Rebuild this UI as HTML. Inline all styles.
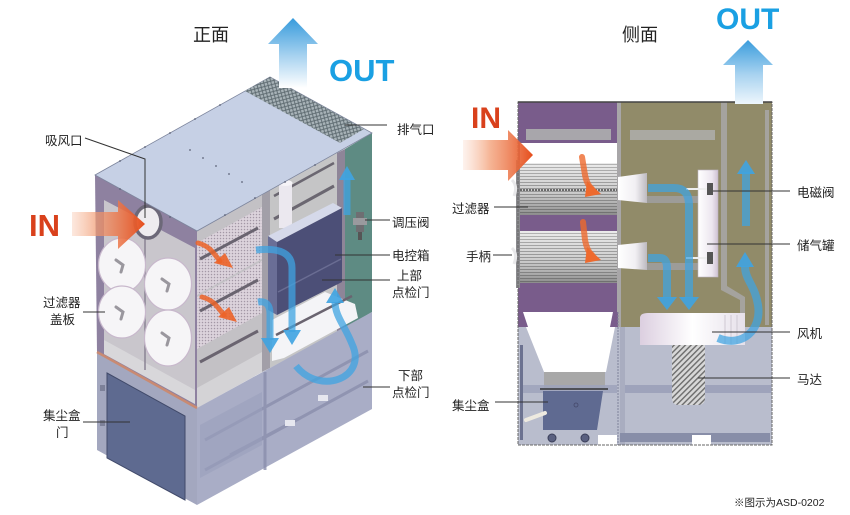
<!DOCTYPE html>
<html><head><meta charset="utf-8">
<style>
html,body{margin:0;padding:0;background:#fff;}
body{width:850px;height:515px;overflow:hidden;position:relative;}
svg{position:absolute;left:0;top:0;}
text{font-family:"Liberation Sans","Noto Sans CJK SC",sans-serif;fill:#222;}
</style></head><body>
<svg width="850" height="515" viewBox="0 0 850 515" xmlns="http://www.w3.org/2000/svg">
<defs>
 <linearGradient id="inF" x1="55" y1="0" x2="146" y2="0" gradientUnits="userSpaceOnUse">
  <stop offset="0" stop-color="#f8c0a4" stop-opacity="0"/>
  <stop offset="0.45" stop-color="#f29a70" stop-opacity="0.7"/>
  <stop offset="1" stop-color="#e54a18"/>
 </linearGradient>
 <linearGradient id="inS" x1="455" y1="0" x2="534" y2="0" gradientUnits="userSpaceOnUse">
  <stop offset="0" stop-color="#f8c0a4" stop-opacity="0"/>
  <stop offset="0.45" stop-color="#f29a70" stop-opacity="0.75"/>
  <stop offset="1" stop-color="#e54a18"/>
 </linearGradient>
 <linearGradient id="outF" x1="0" y1="18" x2="0" y2="88" gradientUnits="userSpaceOnUse">
  <stop offset="0" stop-color="#379bdc"/>
  <stop offset="0.55" stop-color="#a9d3f0"/>
  <stop offset="1" stop-color="#ffffff"/>
 </linearGradient>
 <linearGradient id="outS" x1="0" y1="39" x2="0" y2="104" gradientUnits="userSpaceOnUse">
  <stop offset="0" stop-color="#379bdc"/>
  <stop offset="0.55" stop-color="#a9d3f0"/>
  <stop offset="1" stop-color="#eef6fc"/>
 </linearGradient>
 <pattern id="stripe" width="6" height="3" patternUnits="userSpaceOnUse">
  <rect width="6" height="3" fill="#e4e4e4"/><rect y="2" width="6" height="1" fill="#9c9c9c"/>
 </pattern>
 <linearGradient id="fshade" x1="0" y1="0" x2="0" y2="1">
  <stop offset="0" stop-color="#ffffff" stop-opacity="0.25"/>
  <stop offset="0.5" stop-color="#888" stop-opacity="0.2"/>
  <stop offset="1" stop-color="#444" stop-opacity="0.55"/>
 </linearGradient>
 <pattern id="hatch" width="4" height="4" patternUnits="userSpaceOnUse" patternTransform="rotate(45)">
  <rect width="4" height="4" fill="#d8d8d8"/><rect width="1.4" height="4" fill="#6c6c6c"/>
 </pattern>
 <pattern id="mesh" width="5" height="5" patternUnits="userSpaceOnUse" patternTransform="rotate(30)">
  <rect width="5" height="5" fill="#a8b3b8"/><path d="M0 0 L5 5 M5 0 L0 5" stroke="#5b686e" stroke-width="0.9"/>
 </pattern>
 <pattern id="perf" width="3" height="3" patternUnits="userSpaceOnUse">
  <rect width="3" height="3" fill="#dcd3dc"/><circle cx="1.5" cy="1.5" r="0.75" fill="#a397a5"/>
 </pattern>
 <linearGradient id="tube" x1="0" y1="0" x2="1" y2="0">
  <stop offset="0" stop-color="#ffffff"/><stop offset="0.6" stop-color="#f1eff3"/><stop offset="1" stop-color="#bdbac0"/>
 </linearGradient>
 <linearGradient id="tank" x1="0" y1="0" x2="1" y2="0">
  <stop offset="0" stop-color="#ffffff"/><stop offset="0.7" stop-color="#ece6ef"/><stop offset="1" stop-color="#cfc2d3"/>
 </linearGradient>
 <linearGradient id="fan" x1="0" y1="0" x2="1" y2="0">
  <stop offset="0" stop-color="#dccfe0"/><stop offset="0.5" stop-color="#ffffff"/><stop offset="1" stop-color="#e6e0ea"/>
 </linearGradient>
 <clipPath id="rfUp"><polygon points="197,231 262,195 262,372 197,408"/></clipPath>
</defs>

<!-- ================= FRONT VIEW ================= -->
<polygon points="197,231 262,195 262,372 197,408" fill="#c3c1c5"/>
<g clip-path="url(#rfUp)">
 <polygon points="168,259 262,207 262,259 168,311" fill="url(#perf)"/>
 <polygon points="168,313 262,261 262,313 168,365" fill="url(#perf)"/>
 <polygon points="197,388 262,352 262,372 197,408" fill="#d4d3d6"/>
 <line x1="200" y1="259" x2="258" y2="228" stroke="#6a6470" stroke-width="3"/>
 <line x1="200" y1="311" x2="258" y2="280" stroke="#6a6470" stroke-width="3"/>
 <line x1="200" y1="362" x2="258" y2="331" stroke="#6a6470" stroke-width="3"/>
</g>
<polygon points="262,195 270,190 270,368 262,372" fill="#a29fa8"/>
<polygon points="270,190 337,153 337,332 270,368" fill="#c5c5c6"/>
<line x1="274" y1="219" x2="334" y2="186" stroke="#6b6771" stroke-width="3"/>
<line x1="274" y1="196" x2="334" y2="163" stroke="#6b6771" stroke-width="2.5"/>
<rect x="279" y="183" width="13" height="45" fill="#ebe8ef"/>
<ellipse cx="285.5" cy="183" rx="7" ry="3" fill="#f6f4f8"/>
<polygon points="337,153 345,149 345,328 337,332" fill="#8e8598"/>
<polygon points="345,149 372,133 372,312 345,328" fill="#5e8b83"/>
<rect x="356" y="212" width="8" height="20" fill="#6e6e72"/>
<rect x="353" y="218" width="14" height="7" fill="#9a9a9e"/>
<rect x="358" y="232" width="4" height="8" fill="#555"/>
<polygon points="268,236 333,203 342,208 277,242" fill="#d5d9ea"/>
<polygon points="268,236 277,242 277,315 268,310" fill="#6a6e96"/>
<polygon points="277,242 342,208 342,282 277,315" fill="#4c4f77"/>
<line x1="278" y1="292" x2="341" y2="259" stroke="#6a6d93" stroke-width="1.5"/>
<polygon points="272,320 325,292 355,304 358,318 284,358 272,361" fill="#f4f4f7"/>
<line x1="276" y1="335" x2="352" y2="296" stroke="#6a6470" stroke-width="2.5"/>

<polygon points="197,408 372,312 372,409 197,505" fill="#a9adc6"/>
<g stroke="#8b8fad" stroke-width="3" opacity="0.8" fill="none">
 <line x1="205" y1="440" x2="368" y2="351"/>
 <line x1="205" y1="470" x2="368" y2="381"/>
 <line x1="265" y1="372" x2="265" y2="470"/>
 <line x1="230" y1="455" x2="300" y2="418"/>
</g>
<polygon points="200,425 262,392 262,445 200,478" fill="#9ba0bd" opacity="0.6"/>
<rect x="285" y="420" width="10" height="6" fill="#e6e7ef"/>
<rect x="318" y="395" width="10" height="6" fill="#e6e7ef"/>
<polygon points="97,352 197,408 197,505 97,450" fill="#a3a7bf"/>
<polygon points="107,373 185,416 185,500 107,458" fill="#5e6a90" stroke="#414a6a" stroke-width="1"/>
<rect x="100" y="385" width="5" height="6" fill="#7d8199"/>
<rect x="100" y="420" width="5" height="6" fill="#7d8199"/>

<polygon points="95,175 197,231 197,408 97,352" fill="#8e81a0"/>
<polygon points="104,200 195,248 195,404 104,354" fill="#c9c6cc"/>
<polygon points="104,340 195,390 195,404 104,354" fill="#d8d7da"/>
<line x1="145" y1="228" x2="145" y2="370" stroke="#8a8494" stroke-width="1.5"/>
<line x1="97" y1="352" x2="197" y2="408" stroke="#c98a72" stroke-width="2.5"/>
<ellipse cx="148" cy="222" rx="13" ry="16" fill="#eeecef" stroke="#6c6878" stroke-width="3.5"/>
<g fill="#f6f5f7" stroke="#c8b8cc" stroke-width="1.2">
 <ellipse cx="122" cy="265" rx="23.5" ry="27"/>
 <ellipse cx="122" cy="312" rx="23.5" ry="26"/>
 <ellipse cx="168" cy="284" rx="23.5" ry="26"/>
 <ellipse cx="168" cy="338" rx="23.5" ry="28"/>
</g>
<g stroke="#9a979e" stroke-width="3" fill="none" stroke-linecap="round">
 <path d="M116,260 L123,265 L121,272"/>
 <path d="M116,307 L123,312 L121,319"/>
 <path d="M162,279 L169,284 L167,291"/>
 <path d="M162,333 L169,338 L167,345"/>
</g>

<polygon points="95,175 270,77 372,133 197,231" fill="#c6d0e5" stroke="#7d859d" stroke-width="0.8"/>
<polygon points="245,91 270,77 364,129 340,143" fill="url(#mesh)"/>
<g fill="#5d6378">
 <circle cx="120" cy="161" r="0.9"/><circle cx="145" cy="147" r="0.9"/><circle cx="170" cy="133" r="0.9"/><circle cx="195" cy="119" r="0.9"/><circle cx="220" cy="105" r="0.9"/>
 <circle cx="120" cy="189" r="0.9"/><circle cx="145" cy="203" r="0.9"/><circle cx="170" cy="217" r="0.9"/>
 <circle cx="225" cy="215" r="0.9"/><circle cx="255" cy="198" r="0.9"/><circle cx="285" cy="182" r="0.9"/><circle cx="315" cy="165" r="0.9"/>
 <circle cx="190" cy="150" r="0.9"/><circle cx="203" cy="158" r="0.9"/><circle cx="216" cy="166" r="0.9"/><circle cx="229" cy="174" r="0.9"/><circle cx="242" cy="182" r="0.9"/>
</g>

<polygon points="72,212 118,212 118,200 145,224 118,249 118,236 72,236" fill="url(#inF)"/>
<g fill="none" stroke="#ec6328" stroke-width="5" opacity="0.85" stroke-linecap="round">
 <path d="M198,243 C210,246 214,254 220,261"/>
 <path d="M202,297 C214,300 218,308 224,315"/>
</g>
<polygon points="214,263 233,268 225,253" fill="#ec6328" opacity="0.9"/>
<polygon points="218,317 237,322 229,307" fill="#ec6328" opacity="0.9"/>

<g fill="none" stroke="#3fa4e2" stroke-width="7" opacity="0.75">
 <path d="M256,250 Q292,246 292,268 L292,332"/>
 <path d="M258,302 Q270,300 270,314 L270,340"/>
 <path d="M296,366 C320,396 368,378 352,344 C345,326 335,316 335,302"/>
 <path d="M347,215 L347,178"/>
</g>
<g fill="#3fa4e2" opacity="0.9">
 <polygon points="283,330 301,330 292,345"/>
 <polygon points="261,338 279,338 270,353"/>
 <polygon points="326,303 344,303 335,288"/>
 <polygon points="339,180 355,180 347,166"/>
</g>

<polygon points="279,88 279,44 268,44 293,18 318,44 307,44 307,88" fill="url(#outF)"/>
<text x="329" y="81" font-size="31" font-weight="bold" style="fill:#1aa0e3">OUT</text>
<text x="29" y="236" font-size="31" font-weight="bold" style="fill:#d9411c">IN</text>

<g stroke="#333" stroke-width="1" fill="none">
 <polyline points="85,138 145,159 145,218"/>
 <line x1="345" y1="125" x2="387" y2="125"/>
 <line x1="365" y1="220" x2="390" y2="220"/>
 <line x1="335" y1="255" x2="390" y2="255"/>
 <line x1="322" y1="280" x2="390" y2="280"/>
 <line x1="363" y1="387" x2="390" y2="387"/>
 <line x1="83" y1="312" x2="105" y2="312"/>
 <line x1="83" y1="422" x2="130" y2="422"/>
</g>
<text x="193" y="41" font-size="18">正面</text>
<text x="45" y="145" font-size="12.5">吸风口</text>
<text x="397" y="134" font-size="12.5">排气口</text>
<text x="392" y="227" font-size="12.5">调压阀</text>
<text x="392" y="260" font-size="12.5">电控箱</text>
<text x="397" y="280" font-size="12.5">上部</text>
<text x="392" y="297" font-size="12.5">点检门</text>
<text x="398" y="380" font-size="12.5">下部</text>
<text x="392" y="397" font-size="12.5">点检门</text>
<text x="43" y="307" font-size="12.5">过滤器</text>
<text x="50" y="324" font-size="12.5">盖板</text>
<text x="43" y="420" font-size="12.5">集尘盒</text>
<text x="56" y="437" font-size="12.5">门</text>

<!-- ================= SIDE VIEW ================= -->
<rect x="518" y="312" width="254" height="133" fill="#b9bdcd"/>
<rect x="518" y="102" width="100" height="210" fill="#795c8b"/>
<rect x="618" y="102" width="154" height="225" fill="#918b69"/>
<polygon points="721,102 727,102 727,286 745,297 745,315 740,315 740,300 721,290" fill="#a5a39e"/>
<rect x="765" y="110" width="4" height="215" fill="#a5a39e"/>
<rect x="617" y="102" width="4" height="225" fill="#a8a6a8"/>
<rect x="526" y="129" width="85" height="11" fill="#a8a6ab"/>
<rect x="630" y="130" width="85" height="10" fill="#aaa9a2"/>
<rect x="520" y="143" width="97" height="20" fill="#ffffff"/>
<rect x="520" y="163" width="97" height="52" fill="url(#stripe)"/>
<rect x="520" y="163" width="97" height="52" fill="url(#fshade)"/>
<line x1="520" y1="190" x2="617" y2="190" stroke="#6a6a6a" stroke-width="2" stroke-dasharray="2,1"/>
<rect x="520" y="231" width="97" height="52" fill="url(#stripe)"/>
<rect x="520" y="231" width="97" height="52" fill="url(#fshade)"/>
<rect x="516" y="160" width="4" height="128" fill="#8a8a8e"/>
<path d="M512,180 Q518,186 514,196" stroke="#e8e8ea" stroke-width="3" fill="none"/>
<path d="M512,248 Q518,254 514,264" stroke="#e8e8ea" stroke-width="3" fill="none"/>
<polygon points="618,177 647,173 647,203 618,200" fill="url(#tube)"/>
<polygon points="618,245 647,242 647,270 618,268" fill="url(#tube)"/>
<rect x="647" y="196" width="53" height="7" fill="#9d9c98"/>
<rect x="647" y="263" width="53" height="7" fill="#9d9c98"/>
<rect x="698" y="170" width="20" height="107" fill="url(#tank)" stroke="#bdb4c2" stroke-width="0.6"/>
<line x1="686" y1="189" x2="708" y2="189" stroke="#eeeeee" stroke-width="2"/>
<line x1="686" y1="258" x2="708" y2="258" stroke="#eeeeee" stroke-width="2"/>
<rect x="707" y="183" width="6" height="12" fill="#555"/>
<rect x="707" y="252" width="6" height="12" fill="#555"/>
<polygon points="520,312 618,312 606,372 544,372" fill="#ffffff"/>
<polygon points="518,312 523,312 528,327 518,327" fill="#795c8b"/>
<polygon points="613,312 618,312 618,327 610,327" fill="#795c8b"/>
<rect x="544" y="372" width="61" height="16" fill="#a8a8a8"/>
<rect x="522" y="385" width="95" height="8" fill="#9ea3bb" opacity="0.85"/>
<rect x="621" y="385" width="150" height="8" fill="#9ea3bb"/>
<line x1="540" y1="389" x2="608" y2="389" stroke="#333" stroke-width="1.5"/>
<polygon points="543,391 603,391 597,430 543,430" fill="#5f6a91"/>
<circle cx="576" cy="405" r="2" fill="none" stroke="#44486a" stroke-width="0.8"/>
<circle cx="552" cy="438" r="4" fill="#5a6080" stroke="#3b3f5a"/>
<circle cx="585" cy="438" r="4" fill="#5a6080" stroke="#3b3f5a"/>
<path d="M526,420 L545,413" stroke="#eeeae0" stroke-width="4" stroke-linecap="round"/>
<rect x="520" y="345" width="3" height="95" fill="#6c7290"/>
<rect x="620" y="327" width="5" height="118" fill="#a9adc0"/>
<line x1="618" y1="312" x2="618" y2="445" stroke="#7f839a" stroke-dasharray="2,1"/>
<rect x="620" y="433" width="150" height="9" fill="#888ea8"/>
<rect x="598" y="435" width="19" height="10" fill="#ffffff"/>
<rect x="692" y="435" width="19" height="10" fill="#ffffff"/>
<path d="M640,318 Q640,313 648,313 L745,313 L745,345 L640,345 Z" fill="url(#fan)"/>
<g stroke="#cfc9d3" stroke-width="1"><line x1="725" y1="315" x2="725" y2="344"/><line x1="731" y1="315" x2="731" y2="344"/><line x1="737" y1="315" x2="737" y2="344"/></g>
<path d="M672,345 L705,345 L705,398 Q705,405 698,405 L679,405 Q672,405 672,398 Z" fill="url(#hatch)"/>
<rect x="518" y="102" width="254" height="343" fill="none" stroke="#666" stroke-width="1" stroke-dasharray="3,1"/>
<line x1="518" y1="102" x2="772" y2="102" stroke="#444" stroke-width="1.5"/>

<polygon points="463,140 508,140 508,130 533,155 508,181 508,170 463,170" fill="url(#inS)"/>
<g fill="none" stroke="#ee6a2e" stroke-width="6" opacity="0.8" stroke-linecap="round">
 <path d="M582,157 L585,175 Q587,185 592,189"/>
 <path d="M583,222 L585,240 Q587,251 592,255"/>
</g>
<polygon points="587,181 601,194 585,197" fill="#ee6a2e"/>
<polygon points="587,247 601,260 585,263" fill="#ee6a2e"/>
<g fill="none" stroke="#3fa4e2" stroke-width="8" opacity="0.72">
 <path d="M648,188 L674,188 Q689,188 689,205 L689,298"/>
 <path d="M648,258 L660,258 Q667,258 667,268 L667,298"/>
 <path d="M746,226 L746,172"/>
 <path d="M718,338 C742,348 762,330 758,305 C755,285 745,280 745,266"/>
</g>
<g fill="#3fa4e2" opacity="0.9">
 <polygon points="679,297 699,297 689,310"/>
 <polygon points="657,297 677,297 667,310"/>
 <polygon points="737,174 755,174 746,160"/>
 <polygon points="736,267 754,267 745,252"/>
</g>
<polygon points="735,104 735,65 723,65 748,40 773,65 763,65 763,104" fill="url(#outS)"/>
<text x="716" y="29" font-size="30" font-weight="bold" style="fill:#1aa0e3">OUT</text>
<text x="471" y="128" font-size="30" font-weight="bold" style="fill:#d9411c">IN</text>

<g stroke="#333" stroke-width="1" fill="none">
 <line x1="494" y1="207" x2="528" y2="207"/>
 <line x1="493" y1="255" x2="512" y2="255"/>
 <line x1="713" y1="191" x2="790" y2="191"/>
 <line x1="707" y1="244" x2="790" y2="244"/>
 <line x1="712" y1="332" x2="790" y2="332"/>
 <line x1="698" y1="378" x2="790" y2="378"/>
 <line x1="495" y1="402" x2="548" y2="402"/>
</g>
<text x="622" y="41" font-size="18">侧面</text>
<text x="452" y="213" font-size="12.5">过滤器</text>
<text x="466" y="261" font-size="12.5">手柄</text>
<text x="797" y="197" font-size="12.5">电磁阀</text>
<text x="797" y="250" font-size="12.5">储气罐</text>
<text x="797" y="338" font-size="12.5">风机</text>
<text x="797" y="384" font-size="12.5">马达</text>
<text x="452" y="410" font-size="12.5">集尘盒</text>
<text x="734" y="506" font-size="10.5">※图示为ASD-0202</text>
</svg>
</body></html>
